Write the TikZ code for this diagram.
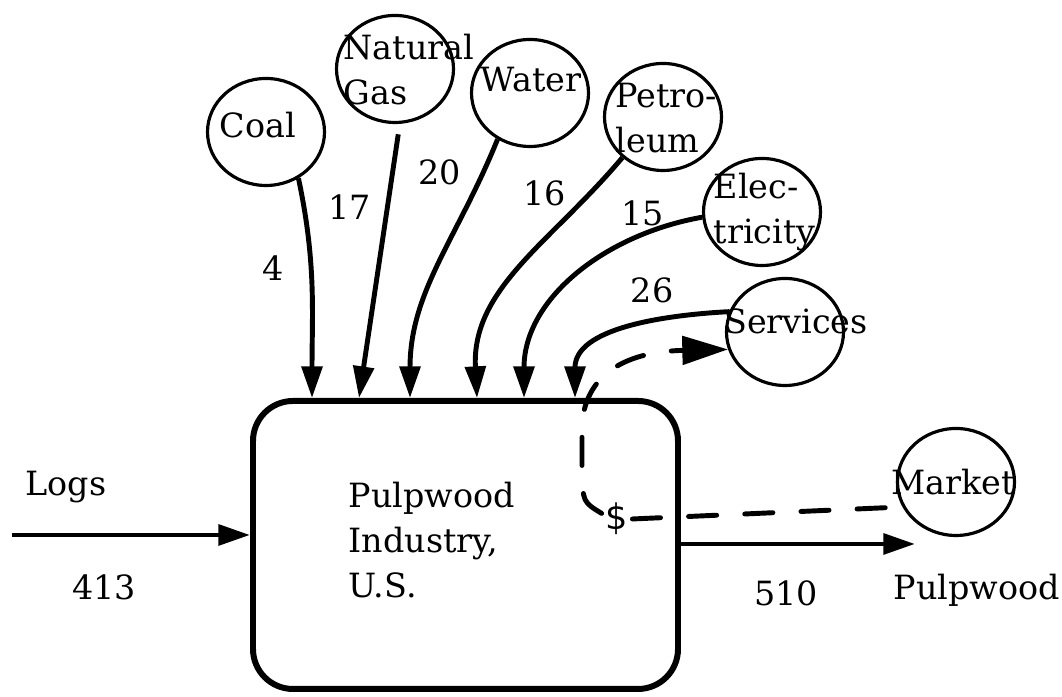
\documentclass[tikz,border=0pt]{standalone}
\usepackage{fontspec}
\setmainfont{DejaVu Serif}
\setsansfont{DejaVu Sans}
\usetikzlibrary{positioning,arrows.meta,calc,shapes.geometric}
\definecolor{ink}{HTML}{000000}
\tikzset{
  src/.style={ellipse, draw=ink, line width=0.9pt, minimum width=1.17cm, minimum height=1.07cm, inner sep=0pt},
  lbl/.style={font=\fontsize{9.5}{12.8}\selectfont, text=ink, inner sep=0pt},
  flow/.style={draw=ink, line width=1.4pt, -{Triangle[length=9pt,width=5.8pt]}},
  money/.style={draw=ink, line width=1.4pt, line cap=round, dash pattern=on 8pt off 8pt},
}
\begin{document}
\begin{tikzpicture}
\useasboundingbox (0,0) rectangle (10.62,6.97);
\node[draw=ink, line width=1.7pt, rounded corners=0.4cm, minimum width=4.25cm, minimum height=2.88cm] (box) at (4.655,1.52) {};
\node[lbl, anchor=west, align=left] (boxTxt) at (3.48,1.57) {Pulpwood\\Industry,\\U.S.};
\node[src] (coal) at (2.66,5.65) {};
\node[src] (gas) at (3.95,6.28) {};
\node[src] (water) at (5.30,6.04) {};
\node[src] (petro) at (6.63,5.80) {};
\node[src] (elec) at (7.62,4.85) {};
\node[src] (svc) at (7.85,3.65) {};
\node[src] (mkt) at (9.56,2.15) {};
\node[lbl] (coalTxt) at (2.58,5.72) {Coal};
\node[lbl, anchor=west, align=left] (gasTxt) at (3.43,6.27) {Natural\\Gas};
\node[lbl] (waterTxt) at (5.31,6.17) {Water};
\node[lbl, anchor=west, align=left] (petroTxt) at (6.15,5.79) {Petro-\\leum};
\node[lbl, anchor=west, align=left] (elecTxt) at (7.13,4.85) {Elec-\\tricity};
\node[lbl] (svcTxt) at (7.96,3.76) {Services};
\node[lbl] (mktTxt) at (9.53,2.15) {Market};
\coordinate (logsIn) at (0.12,1.62);
\coordinate (pulpOut) at (9.15,1.53);
\draw[flow] (logsIn) -- (logsIn -| box.west);
\draw[flow] (box.east |- pulpOut) -- (pulpOut);
\node[lbl] (logsTxt) at (0.66,2.10) {Logs};
\node[lbl] (logsNum) at (1.04,1.10) {413};
\node[lbl] (pulpTxt) at (9.77,1.07) {Pulpwood};
\node[lbl] (pulpNum) at (7.86,1.04) {510};
\draw[flow] (coal.-55) to[out=-78, in=90] ($(box.north west)+(0.62,0)$);
\draw[flow, shorten <=3pt] (gas.-85) -- ($(box.north west)+(1.09,0)$);
\draw[flow] (water.-125) to[out=-112, in=90] ($(box.north west)+(1.60,0)$);
\draw[flow] (petro.-135) to[out=-130, in=93] ($(box.north west)+(2.27,0)$);
\draw[flow] (elec.185) to[out=190, in=90] ($(box.north west)+(2.74,0)$);
\draw[flow] (svc.160) to[out=183, in=90] ($(box.north west)+(3.25,0)$);
\node[lbl] (coalNum) at (2.73,4.29) {4};
\node[lbl] (gasNum) at (3.50,4.90) {17};
\node[lbl] (waterNum) at (4.40,5.25) {20};
\node[lbl] (petroNum) at (5.45,5.04) {16};
\node[lbl] (elecNum) at (6.43,4.84) {15};
\node[lbl] (svcNum) at (6.52,4.07) {26};
\node[lbl, font=\sffamily\fontsize{10}{12.8}\selectfont, inner sep=1pt] (dollar) at (6.17,1.78) {\$};
\draw[money] (dollar.east) -- (mkt.205);
\draw[money, -{Triangle[length=13pt,width=8pt]}] (dollar.160) .. controls (5.83,1.95) .. (5.82,2.25) -- (5.82,2.67) .. controls (5.82,3.1) and (6.1,3.45) .. (svc.197);
\end{tikzpicture}
\end{document}
